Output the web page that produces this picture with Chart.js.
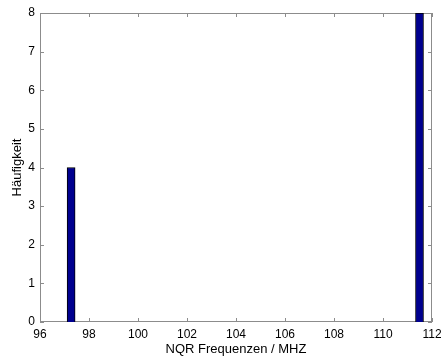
<!DOCTYPE html>
<html>
<head>
<meta charset="utf-8">
<script src="https://cdn.jsdelivr.net/npm/chart.js@4"></script>
<style>
  html, body { margin: 0; padding: 0; background: #fff; }
  #wrap { width: 441px; height: 360px; }
</style>
</head>
<body>
<div id="wrap"><canvas id="hist"></canvas></div>
<script>
// bin centres (MHz) and counts
const binCentres = [97.27, 111.49]
const counts = [4, 8]
const xTicks = [96, 98, 100, 102, 104, 106, 108, 110, 112]
const yTicks = [0, 1, 2, 3, 4, 5, 6, 7, 8]

const axisGrey = "#8c8c8c"

// MATLAB-like box with inward tick marks on all four sides
const boxPlugin = {
  id: "box",
  beforeDatasetsDraw(chart) {
    const { ctx, chartArea: a, scales } = chart
    ctx.save()
    ctx.strokeStyle = axisGrey
    ctx.lineWidth = 1
    ctx.strokeRect(a.left + 0.5, a.top + 0.5, a.right - a.left - 1, a.bottom - a.top - 1)
    ctx.beginPath()
    xTicks.forEach(v => {
      const px = Math.round(scales.x.getPixelForValue(v)) + 0.5
      ctx.moveTo(px, a.bottom); ctx.lineTo(px, a.bottom - 4)
      ctx.moveTo(px, a.top); ctx.lineTo(px, a.top + 4)
    })
    yTicks.forEach(v => {
      const py = Math.round(scales.y.getPixelForValue(v)) + 0.5
      ctx.moveTo(a.left, py); ctx.lineTo(a.left + 4, py)
      ctx.moveTo(a.right, py); ctx.lineTo(a.right - 4, py)
    })
    ctx.stroke()
    ctx.restore()
  }
}

const dados = binCentres.map((c, i) => ({ x: c, y: counts[i] }))

new Chart(document.getElementById("hist"), {
  type: "bar",
  data: {
    datasets: [{
      data: dados,
      backgroundColor: "#00008f",
      borderColor: "#000000",
      borderWidth: 1,
      barThickness: 8
    }]
  },
  options: {
    responsive: true,
    maintainAspectRatio: false,
    animation: false,
    layout: { padding: { top: 13, right: 9, left: 0, bottom: 0 } },
    plugins: { legend: { display: false }, tooltip: { enabled: false } },
    scales: {
      x: {
        type: "linear",
        offset: false,
        min: 96,
        max: 112,
        afterBuildTicks: s => { s.ticks = xTicks.map(v => ({ value: v })) },
        afterFit: s => { s.height = 38; s.paddingLeft = 0; s.paddingRight = 0 },
        grid: { display: false, drawTicks: false, offset: false },
        border: { display: false },
        ticks: { color: "#000", padding: 5, font: { family: "Liberation Sans", size: 12 } },
        title: {
          display: true,
          text: "NQR Frequenzen / MHZ",
          color: "#000",
          padding: { top: 0, bottom: 3 },
          font: { family: "Liberation Sans", size: 13 }
        }
      },
      y: {
        min: 0,
        max: 8,
        afterBuildTicks: s => { s.ticks = yTicks.map(v => ({ value: v })) },
        afterFit: s => { s.width = 40; s.paddingTop = 0; s.paddingBottom = 0 },
        grid: { display: false, drawTicks: false },
        border: { display: false },
        ticks: { color: "#000", padding: 5, font: { family: "Liberation Sans", size: 12 } },
        title: {
          display: true,
          text: "Häufigkeit",
          color: "#000",
          padding: { top: 10, bottom: 0 },
          font: { family: "Liberation Sans", size: 13 }
        }
      }
    }
  },
  plugins: [boxPlugin]
})
</script>
</body>
</html>
